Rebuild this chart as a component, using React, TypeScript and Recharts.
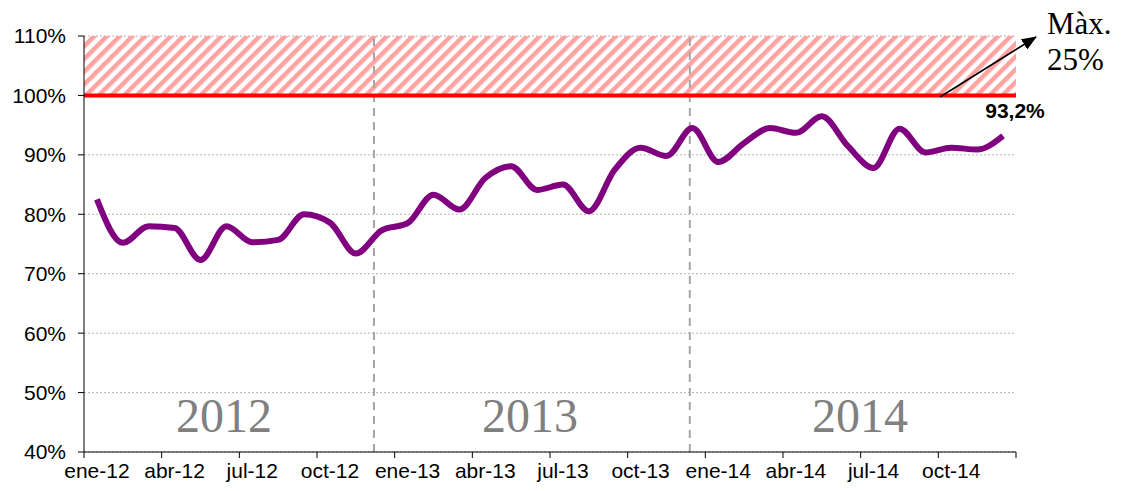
import {
  LineChart,
  Line,
  XAxis,
  YAxis,
  CartesianGrid,
  ReferenceLine,
  ReferenceArea,
} from 'recharts'

const months = [
  'ene-12', 'feb-12', 'mar-12', 'abr-12', 'may-12', 'jun-12', 'jul-12', 'ago-12', 'sep-12', 'oct-12', 'nov-12', 'dic-12',
  'ene-13', 'feb-13', 'mar-13', 'abr-13', 'may-13', 'jun-13', 'jul-13', 'ago-13', 'sep-13', 'oct-13', 'nov-13', 'dic-13',
  'ene-14', 'feb-14', 'mar-14', 'abr-14', 'may-14', 'jun-14', 'jul-14', 'ago-14', 'sep-14', 'oct-14', 'nov-14', 'dic-14',
]

const ratio = [
  82.5, 75.2, 78.0, 77.7, 72.3, 78.0, 75.3, 75.7, 80.0, 78.6, 73.4, 77.3,
  78.5, 83.3, 80.8, 86.1, 88.1, 84.1, 85.0, 80.5, 87.5, 91.2, 89.8, 94.5,
  88.8, 92.0, 94.5, 93.7, 96.5, 91.5, 87.8, 94.4, 90.4, 91.2, 90.9, 93.2,
]

const yTicks = [40, 50, 60, 70, 80, 90, 100, 110]
const xTicks = [0, 3, 6, 9, 12, 15, 18, 21, 24, 27, 30, 33, 36]
const yearBreaks = [11.2, 23.4]
const years = ['2012', '2013', '2014']
const limit = 100
const maxLimit = 110

const data = months.map((m, i) => ({ x: i + 0.5, month: m, value: ratio[i] }))

const sans = '"Liberation Sans", Arial, sans-serif'
const serif = '"Liberation Serif", "Times New Roman", serif'
const halfMonth = 932 / 36 / 2

function MonthTick({ x, y, payload }: any) {
  const label = months[payload.value] ?? ''
  return (
    <text
      x={x + halfMonth}
      y={y + 16}
      textAnchor="middle"
      fontSize={21}
      fontFamily={sans}
      fill="#000"
    >
      {label}
    </text>
  )
}

export default function App() {
  const last = ratio[ratio.length - 1].toFixed(1).replace('.', ',') + '%'
  const yearX = [224, 530, 860]

  return (
    <div style={{ position: 'absolute', left: 0, top: 0, width: 1125, height: 491, background: '#fff' }}>
      <LineChart
        width={1125}
        height={491}
        data={data}
        margin={{ top: 36, right: 109, bottom: 0, left: 0 }}
      >
        <defs>
          <pattern
            id="hatch"
            width="9"
            height="9"
            patternUnits="userSpaceOnUse"
            patternTransform="rotate(45)"
          >
            <rect x="0" y="0" width="4.5" height="9" fill="#ffa2a2" />
          </pattern>
        </defs>
        <CartesianGrid vertical={false} stroke="#b5b5b5" strokeDasharray="2 2" />
        <ReferenceArea y1={limit} y2={maxLimit} fill="url(#hatch)" fillOpacity={1} stroke="none" />
        {yearBreaks.map((b) => (
          <ReferenceLine key={b} x={b} stroke="#a6a6a6" strokeWidth={2} strokeDasharray="8 6" />
        ))}
        <XAxis
          type="number"
          dataKey="x"
          domain={[0, 36]}
          ticks={xTicks}
          interval={0}
          height={39}
          stroke="#000"
          tickSize={6}
          tickMargin={4}
          tick={<MonthTick />}
        />
        <YAxis
          type="number"
          domain={[40, 110]}
          ticks={yTicks}
          interval={0}
          width={84}
          stroke="#000"
          tickSize={6}
          tickMargin={12}
          tickFormatter={(v) => `${v}%`}
          tick={{ fontSize: 21, fontFamily: sans, fill: '#000' }}
        />
        <ReferenceLine y={limit} stroke="#ff0000" strokeWidth={4} />
        <Line
          type="monotone"
          dataKey="value"
          stroke="#800080"
          strokeWidth={6}
          dot={false}
          isAnimationActive={false}
        />
      </LineChart>
      <svg
        width={1125}
        height={491}
        style={{ position: 'absolute', left: 0, top: 0, pointerEvents: 'none' }}
      >
        <defs>
          <marker id="arrow" markerWidth="15" markerHeight="12" refX="14" refY="6" orient="auto" markerUnits="userSpaceOnUse">
            <path d="M0,0 L15,6 L0,12 Z" fill="#000" />
          </marker>
        </defs>
        {years.map((yr, i) => (
          <text key={yr} x={yearX[i]} y={432} textAnchor="middle" fontSize={48} fontFamily={serif} fill="#808080">
            {yr}
          </text>
        ))}
        <line x1={940} y1={97} x2={1036} y2={37} stroke="#000" strokeWidth={1.5} markerEnd="url(#arrow)" />
        <text x={1047} y={34} fontSize={31} fontFamily={serif} fill="#000">Màx.</text>
        <text x={1047} y={70} fontSize={31} fontFamily={serif} fill="#000">25%</text>
        <text x={1015} y={118} textAnchor="middle" fontSize={21} fontWeight="bold" fontFamily={sans} fill="#000">
          {last}
        </text>
      </svg>
    </div>
  )
}
